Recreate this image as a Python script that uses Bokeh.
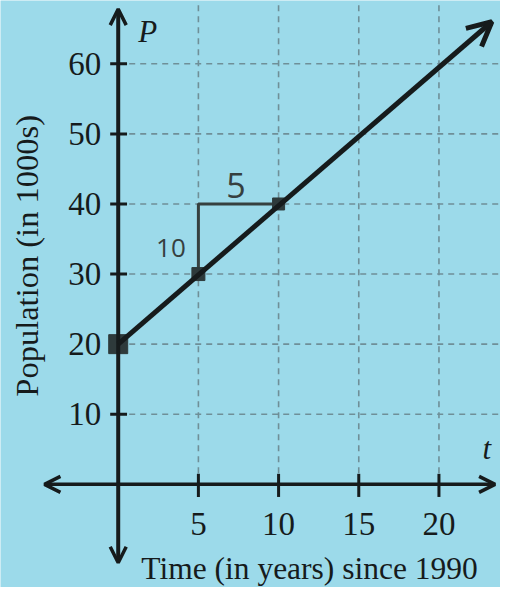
import math
from bokeh.plotting import figure
from bokeh.models import Range1d, Arrow, OpenHead, ColumnDataSource
from bokeh.core.properties import value
from bokeh.embed import file_html
from bokeh.resources import INLINE

# ---- data ----
x_ticks = [5, 10, 15, 20]
x_tick_labels = ["5", "10", "15", "20"]
y_ticks = [10, 20, 30, 40, 50, 60]
y_tick_labels = ["10", "20", "30", "40", "50", "60"]
t_points = [0, 5, 10]
p_points = [20, 30, 40]
t_line_end = 23.3
p_line_end = 66.0
x_title = "Time (in years) since 1990"
y_title = "Population (in 1000s)"
x_var = "t"
y_var = "P"
run_label = "5"
rise_label = "10"

# ---- styles ----
BG = "#9cdaea"
GRID = "#6f8f98"
INK = "#161b1c"
PEN = "#36403f"
SERIF = value("Liberation Serif")

X0, X1 = -7.340, 23.838
Y0, Y1 = -14.72, 69.03

p = figure(width=500, height=587, x_range=Range1d(X0, X1), y_range=Range1d(Y0, Y1),
           output_backend="svg", toolbar_location=None, min_border=0,
           x_axis_type=None, y_axis_type=None,
           background_fill_color=BG, border_fill_color=BG, outline_line_color=None)
p.grid.visible = False

# dashed grid
p.segment(x0=x_ticks, y0=[0] * len(x_ticks), x1=x_ticks, y1=[Y1] * len(x_ticks),
          line_color=GRID, line_width=1.6, line_dash="6 5")
p.segment(x0=[0] * len(y_ticks), y0=y_ticks, x1=[X1] * len(y_ticks), y1=y_ticks,
          line_color=GRID, line_width=1.6, line_dash="6 5")

# axes with arrows
p.add_layout(Arrow(start=OpenHead(size=16, line_width=3.5, line_color=INK),
                   end=OpenHead(size=16, line_width=3.5, line_color=INK),
                   x_start=0, y_start=-11.2, x_end=0, y_end=67.8,
                   line_width=4, line_color=INK))
p.add_layout(Arrow(start=OpenHead(size=16, line_width=3.5, line_color=INK),
                   end=OpenHead(size=16, line_width=3.5, line_color=INK),
                   x_start=-4.6, y_start=0, x_end=23.5, y_end=0,
                   line_width=3.5, line_color=INK))

# tick marks
p.segment(x0=[-0.5] * len(y_ticks), y0=y_ticks, x1=[0.55] * len(y_ticks), y1=y_ticks,
          line_color=INK, line_width=3)
p.segment(x0=x_ticks, y0=[-1.8] * len(x_ticks), x1=x_ticks, y1=[1.5] * len(x_ticks),
          line_color=INK, line_width=3)

# tick labels
ysrc = ColumnDataSource(dict(x=[-1.06] * len(y_ticks), y=y_ticks, t=y_tick_labels))
p.text(x="x", y="y", text="t", source=ysrc, text_font=SERIF, text_font_size="33px",
       text_align="right", text_baseline="middle", text_color=INK)
xsrc = ColumnDataSource(dict(x=x_ticks, y=[-5.6] * len(x_ticks), t=x_tick_labels))
p.text(x="x", y="y", text="t", source=xsrc, text_font=SERIF, text_font_size="33px",
       text_align="center", text_baseline="middle", text_color=INK)

# axis titles and variable names
p.text(x=[11.93], y=[-11.94], text=[x_title], text_font=SERIF, text_font_size="31.5px",
       text_align="center", text_baseline="middle", text_color=INK)
p.text(x=[-5.71], y=[32.6], text=[y_title], angle=math.pi / 2, text_font=SERIF,
       text_font_size="32.5px", text_align="center", text_baseline="middle", text_color=INK)
p.text(x=[1.84], y=[64.6], text=[y_var], text_font=SERIF, text_font_style="italic",
       text_font_size="31px", text_align="center", text_baseline="middle", text_color=INK)
p.text(x=[22.99], y=[5.1], text=[x_var], text_font=SERIF, text_font_style="italic",
       text_font_size="31px", text_align="center", text_baseline="middle", text_color=INK)

# rise/run triangle (hand drawn)
p.line(x=[t_points[1], t_points[1], t_points[2]], y=[p_points[1], p_points[2], p_points[2]],
       line_color=PEN, line_width=3)
p.text(x=[7.34], y=[42.6], text=[run_label], text_font=value("Open Sans"),
       text_font_size="34px", text_align="center", text_baseline="middle", text_color=PEN)
p.text(x=[3.29], y=[33.75], text=[rise_label], text_font=value("Open Sans"),
       text_font_size="26px", text_align="center", text_baseline="middle", text_color=PEN)

# population line with arrow
p.add_layout(Arrow(end=OpenHead(size=24, line_width=5, line_color=INK),
                   x_start=t_points[0], y_start=p_points[0], x_end=t_line_end, y_end=p_line_end,
                   line_width=5, line_color=INK))

# points
p.scatter(x=t_points, y=p_points, marker="square", size=[19, 13, 12],
          fill_color="#2e3a3b", line_color="#2e3a3b")

open("out.html", "w").write(file_html(p, INLINE))
